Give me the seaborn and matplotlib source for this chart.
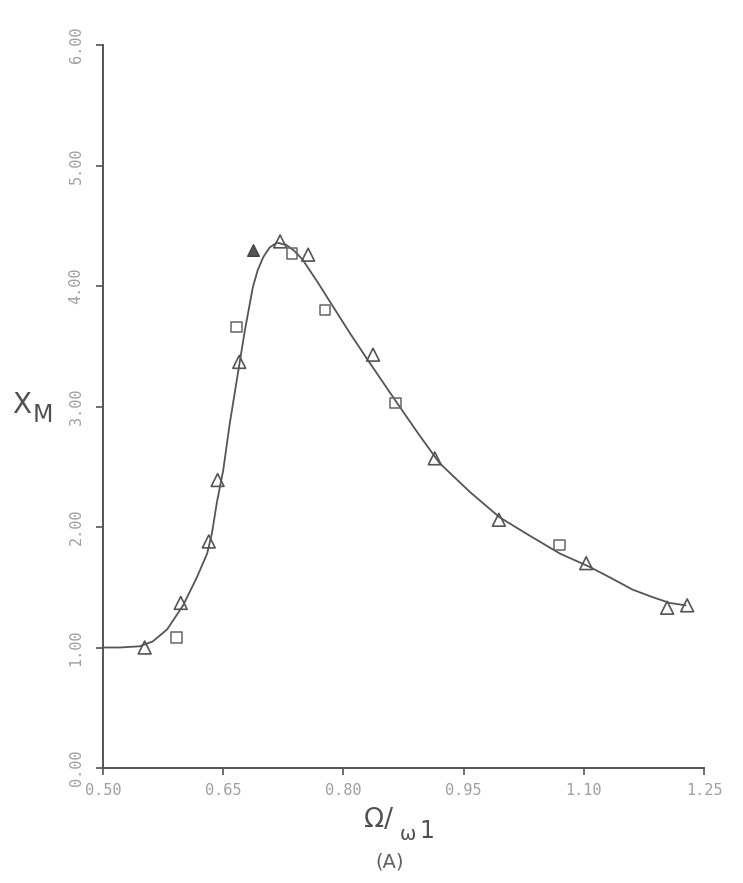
import matplotlib
matplotlib.use("Agg")
import matplotlib.pyplot as plt
import seaborn as sns
import pandas as pd

# ---- data ----
curve_x = [0.500, 0.521, 0.546, 0.562, 0.580, 0.600, 0.617, 0.630, 0.636, 0.642,
           0.650, 0.658, 0.667, 0.677, 0.687, 0.693, 0.700, 0.708, 0.717, 0.729,
           0.739, 0.749, 0.768, 0.787, 0.808, 0.830, 0.870, 0.895, 0.920, 0.958,
           0.995, 1.032, 1.070, 1.107, 1.133, 1.161, 1.185, 1.207, 1.227]
curve_y = [1.00, 1.00, 1.01, 1.05, 1.15, 1.35, 1.58, 1.78, 1.95, 2.20,
           2.47, 2.85, 3.22, 3.63, 3.99, 4.13, 4.24, 4.32, 4.36, 4.34,
           4.29, 4.22, 4.03, 3.83, 3.61, 3.39, 3.00, 2.76, 2.53, 2.29,
           2.08, 1.93, 1.78, 1.67, 1.58, 1.48, 1.42, 1.37, 1.35]

tri_x = [0.552, 0.597, 0.632, 0.643, 0.670, 0.721, 0.756, 0.837, 0.914, 0.994,
         1.103, 1.204, 1.229]
tri_y = [1.00, 1.37, 1.88, 2.39, 3.37, 4.37, 4.26, 3.43, 2.57, 2.06,
         1.70, 1.33, 1.35]

filled_x = [0.687]
filled_y = [4.30]

sq_x = [0.592, 0.667, 0.736, 0.777, 0.865, 1.070]
sq_y = [1.08, 3.66, 4.27, 3.80, 3.03, 1.85]

x_ticks = [0.50, 0.65, 0.80, 0.95, 1.10, 1.25]
x_tick_labels = ["0.50", "0.65", "0.80", "0.95", "1.10", "1.25"]
y_ticks = [0, 1, 2, 3, 4, 5, 6]
y_tick_labels = ["0.00", "1.00", "2.00", "3.00", "4.00", "5.00", "6.00"]

# ---- plotting ----
sns.set_style("ticks")
fig = plt.figure(figsize=(7.43, 8.83), dpi=100)
ax = fig.add_axes([103 / 743, 1 - 768 / 883, (704 - 103) / 743, (768 - 45) / 883])

curve_df = pd.DataFrame({"x": curve_x, "y": curve_y})
sns.lineplot(data=curve_df, x="x", y="y", ax=ax, color="#555555", lw=1.3,
             sort=False, estimator=None, solid_joinstyle="round")

tri_df = pd.DataFrame({"x": tri_x, "y": tri_y})
sns.scatterplot(data=tri_df, x="x", y="y", ax=ax, marker="^", s=85,
                facecolor="none", edgecolor="#555555", linewidth=1.2, zorder=3)
sq_df = pd.DataFrame({"x": sq_x, "y": sq_y})
sns.scatterplot(data=sq_df, x="x", y="y", ax=ax, marker="s", s=60,
                facecolor="none", edgecolor="#666666", linewidth=1.1, zorder=3)
fil_df = pd.DataFrame({"x": filled_x, "y": filled_y})
sns.scatterplot(data=fil_df, x="x", y="y", ax=ax, marker="^", s=70,
                color="#555555", edgecolor="#444444", linewidth=1.0, zorder=3)

ax.set_xlim(0.50, 1.25)
ax.set_ylim(0, 6)
ax.set_xticks(x_ticks)
ax.set_xticklabels(x_tick_labels, family="DejaVu Sans Mono", fontsize=11, color="#a0a0a0")
ax.set_yticks(y_ticks)
ax.set_yticklabels(y_tick_labels, family="DejaVu Sans Mono", fontsize=11, color="#a0a0a0",
                   rotation=90, va="center")
ax.tick_params(axis="x", direction="out", length=5, width=1.2, color="#555555", pad=6)
ax.tick_params(axis="y", direction="out", length=5, width=1.2, color="#555555", pad=9)
for s in ["top", "right"]:
    ax.spines[s].set_visible(False)
for s in ["left", "bottom"]:
    ax.spines[s].set_color("#555555")
    ax.spines[s].set_linewidth(1.4)
ax.set_xlabel("")
ax.set_ylabel("")

# axis labels
fig.text(12 / 743, 1 - 405 / 883, "X", fontsize=20, color="#505050", va="center",
         family="DejaVu Sans")
fig.text(33 / 743, 1 - 415 / 883, "M", fontsize=17, color="#505050", va="center",
         family="DejaVu Sans")
fig.text(364 / 743, 1 - 820 / 883, "Ω/", fontsize=19, color="#505050", va="center",
         family="DejaVu Sans")
fig.text(400 / 743, 1 - 835 / 883, "ω", fontsize=14, color="#505050", va="center",
         family="DejaVu Sans")
fig.text(419 / 743, 1 - 831 / 883, "1", fontsize=17, color="#505050", va="center",
         family="DejaVu Sans")
fig.text(390 / 743, 1 - 862 / 883, "(A)", fontsize=14, color="#606060", va="center",
         ha="center", family="DejaVu Sans")

fig.savefig("out.png", dpi=100, facecolor="white")
